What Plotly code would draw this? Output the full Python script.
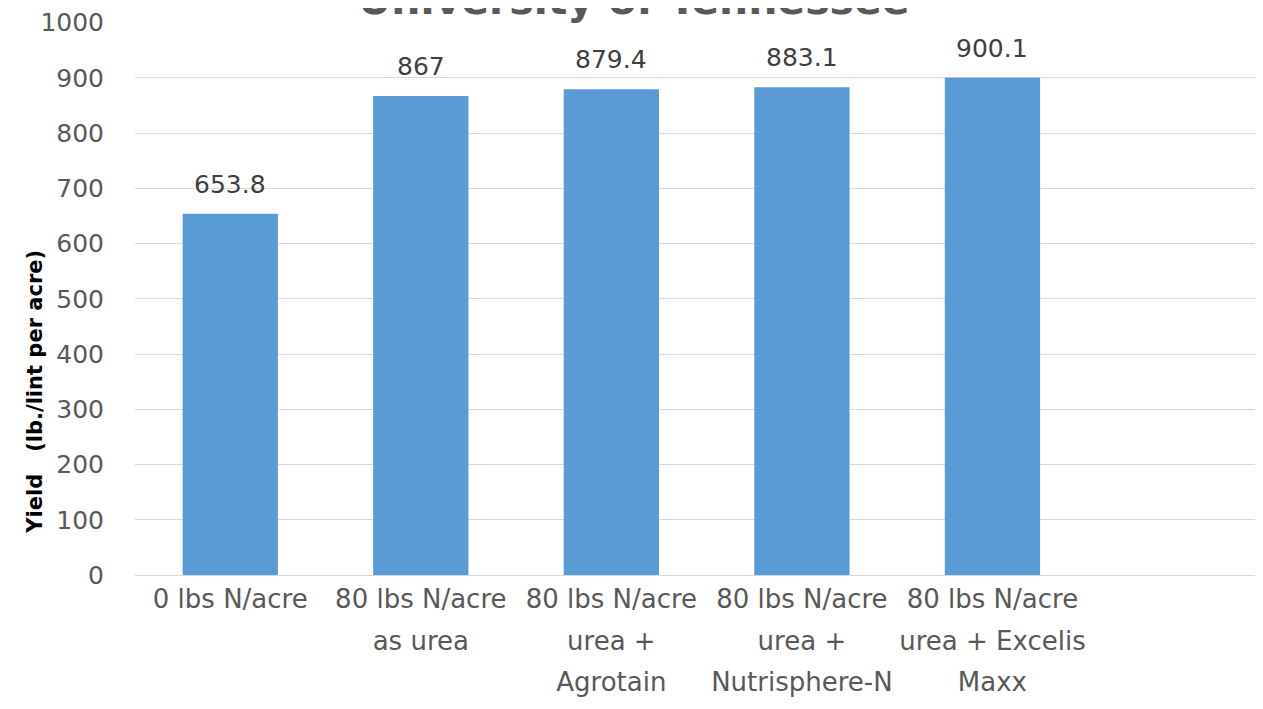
import plotly.graph_objects as go

categories = ["0 lbs N/acre", "80 lbs N/acre<br>as urea", "80 lbs N/acre<br>urea +<br>Agrotain",
              "80 lbs N/acre<br>urea +<br>Nutrisphere-N", "80 lbs N/acre<br>urea + Excelis<br>Maxx"]
yields = [653.8, 867, 879.4, 883.1, 900.1]
y_ticks = [0, 100, 200, 300, 400, 500, 600, 700, 800, 900, 1000]
title_text = "University of Tennessee"
y_title = "Yield&nbsp;&nbsp;&nbsp;(lb./lint per acre)"

FONT = "DejaVu Sans"
GREY = "#595959"

def tick_label(c):
    return "<br>".join('<span style="font-size:26px">%s</span>' % p for p in c.split("<br>"))

xs = list(range(len(categories)))

fig = go.Figure()
fig.add_trace(go.Bar(
    x=xs, y=yields, width=0.5,
    marker=dict(color="#5b9bd5", line=dict(width=0)),
    hoverinfo="x+y",
))

# value labels above bars
for xi, v in zip(xs, yields):
    fig.add_annotation(x=xi, y=v, xref="x", yref="y", text="%g" % v, showarrow=False,
                       yanchor="bottom", xanchor="center", yshift=13,
                       font=dict(family=FONT, size=25, color="#404040"))

# chart title (partly cut off at the top, as in the reference)
fig.add_annotation(x=0.442, y=1, xref="paper", yref="paper", text="<b>%s</b>" % title_text,
                   showarrow=False, xanchor="center", yanchor="bottom", yshift=-4,
                   font=dict(family=FONT, size=41, color=GREY))

# y axis title
fig.add_annotation(x=-0.0887, y=0.3315, xref="paper", yref="paper", text="<b>%s</b>" % y_title,
                   showarrow=False, xanchor="center", yanchor="middle", textangle=-90,
                   font=dict(family=FONT, size=21, color="black"))

fig.update_layout(
    width=1255, height=701,
    margin=dict(l=127, r=0, t=11, b=134),
    paper_bgcolor="white", plot_bgcolor="white",
    showlegend=False,
    xaxis=dict(tickmode="array", tickvals=xs, ticktext=[tick_label(c) for c in categories],
               range=[-0.5, 5.42], showgrid=False, zeroline=False, showline=False,
               ticks="", tickfont=dict(family=FONT, size=32, color=GREY), tickangle=0),
    yaxis=dict(range=[0, 1001], tickmode="array", tickvals=y_ticks,
               showgrid=True, gridcolor="#d9d9d9", gridwidth=1,
               zeroline=True, zerolinecolor="#d9d9d9", zerolinewidth=1,
               showline=False, ticks="", ticklabelstandoff=30,
               ticklabeloverflow="allow",
               tickfont=dict(family=FONT, size=25, color=GREY)),
)

fig.write_html("out.html")
